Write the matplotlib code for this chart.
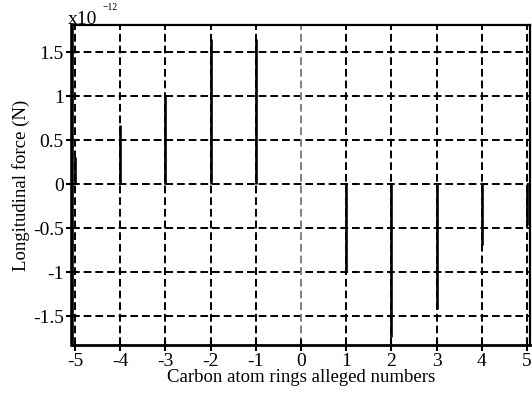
import numpy as np
import matplotlib.pyplot as plt

plt.rcParams['font.family'] = ['Liberation Serif', 'DejaVu Serif']
plt.rcParams['axes.unicode_minus'] = False

# longitudinal force on each carbon ring (units of 1e-12 N)
ring_numbers = [-5, -4, -3, -2, -1, 0, 1, 2, 3, 4, 5]
force_e12 = [0.31, 0.67, 1.0, 1.65, 1.65, 0.0, -1.0, -1.74, -1.42, -0.69, -0.47]
y_ticks = [-1.5, -1, -0.5, 0, 0.5, 1, 1.5]
y_tick_labels = ['-1.5', '-1', '-0.5', '0', '0.5', '1', '1.5']

fig = plt.figure(figsize=(5.32, 3.93), dpi=100)
ax = fig.add_axes([0.1353, 0.1221, 0.861, 0.8143])

dash = (0, (4, 2))
for y in y_ticks:
    ax.axhline(y, color='black', lw=1.4, ls=dash, zorder=1)
for x in ring_numbers:
    c = '0.5' if x == 0 else 'black'
    ax.axvline(x, color=c, lw=1.4, ls=dash, zorder=1)

for x, f in zip(ring_numbers, force_e12):
    if f != 0:
        ax.plot([x, x], [0, f], color='black', lw=1.9, solid_capstyle='butt', zorder=3)

ax.set_xlim(-5.07, 5.07)
ax.set_ylim(-1.83, 1.81)
ax.set_xticks(ring_numbers)
ax.set_xticklabels([str(v) for v in ring_numbers])
ax.set_yticks(y_ticks)
ax.set_yticklabels(y_tick_labels)
ax.tick_params(direction='inout', length=8, width=1.5, labelsize=14, pad=2)

ax.spines['left'].set_linewidth(2.6)
ax.spines['bottom'].set_linewidth(2.0)
ax.spines['top'].set_linewidth(1.6)
ax.spines['right'].set_linewidth(1.6)

ax.set_xlabel('Carbon atom rings alleged numbers', fontsize=13.5, labelpad=-1)
ax.set_ylabel('Longitudinal force (N)', fontsize=13.5, labelpad=2)

# exponent label above the y axis
ax.annotate('x10', xy=(0, 1), xycoords='axes fraction', xytext=(-3, -2),
            textcoords='offset points', fontsize=14, ha='left', va='bottom')
ax.annotate('\u221212', xy=(0, 1), xycoords='axes fraction', xytext=(22, 9),
            textcoords='offset points', fontsize=7, ha='left', va='bottom')

fig.savefig('out.png', dpi=100)
